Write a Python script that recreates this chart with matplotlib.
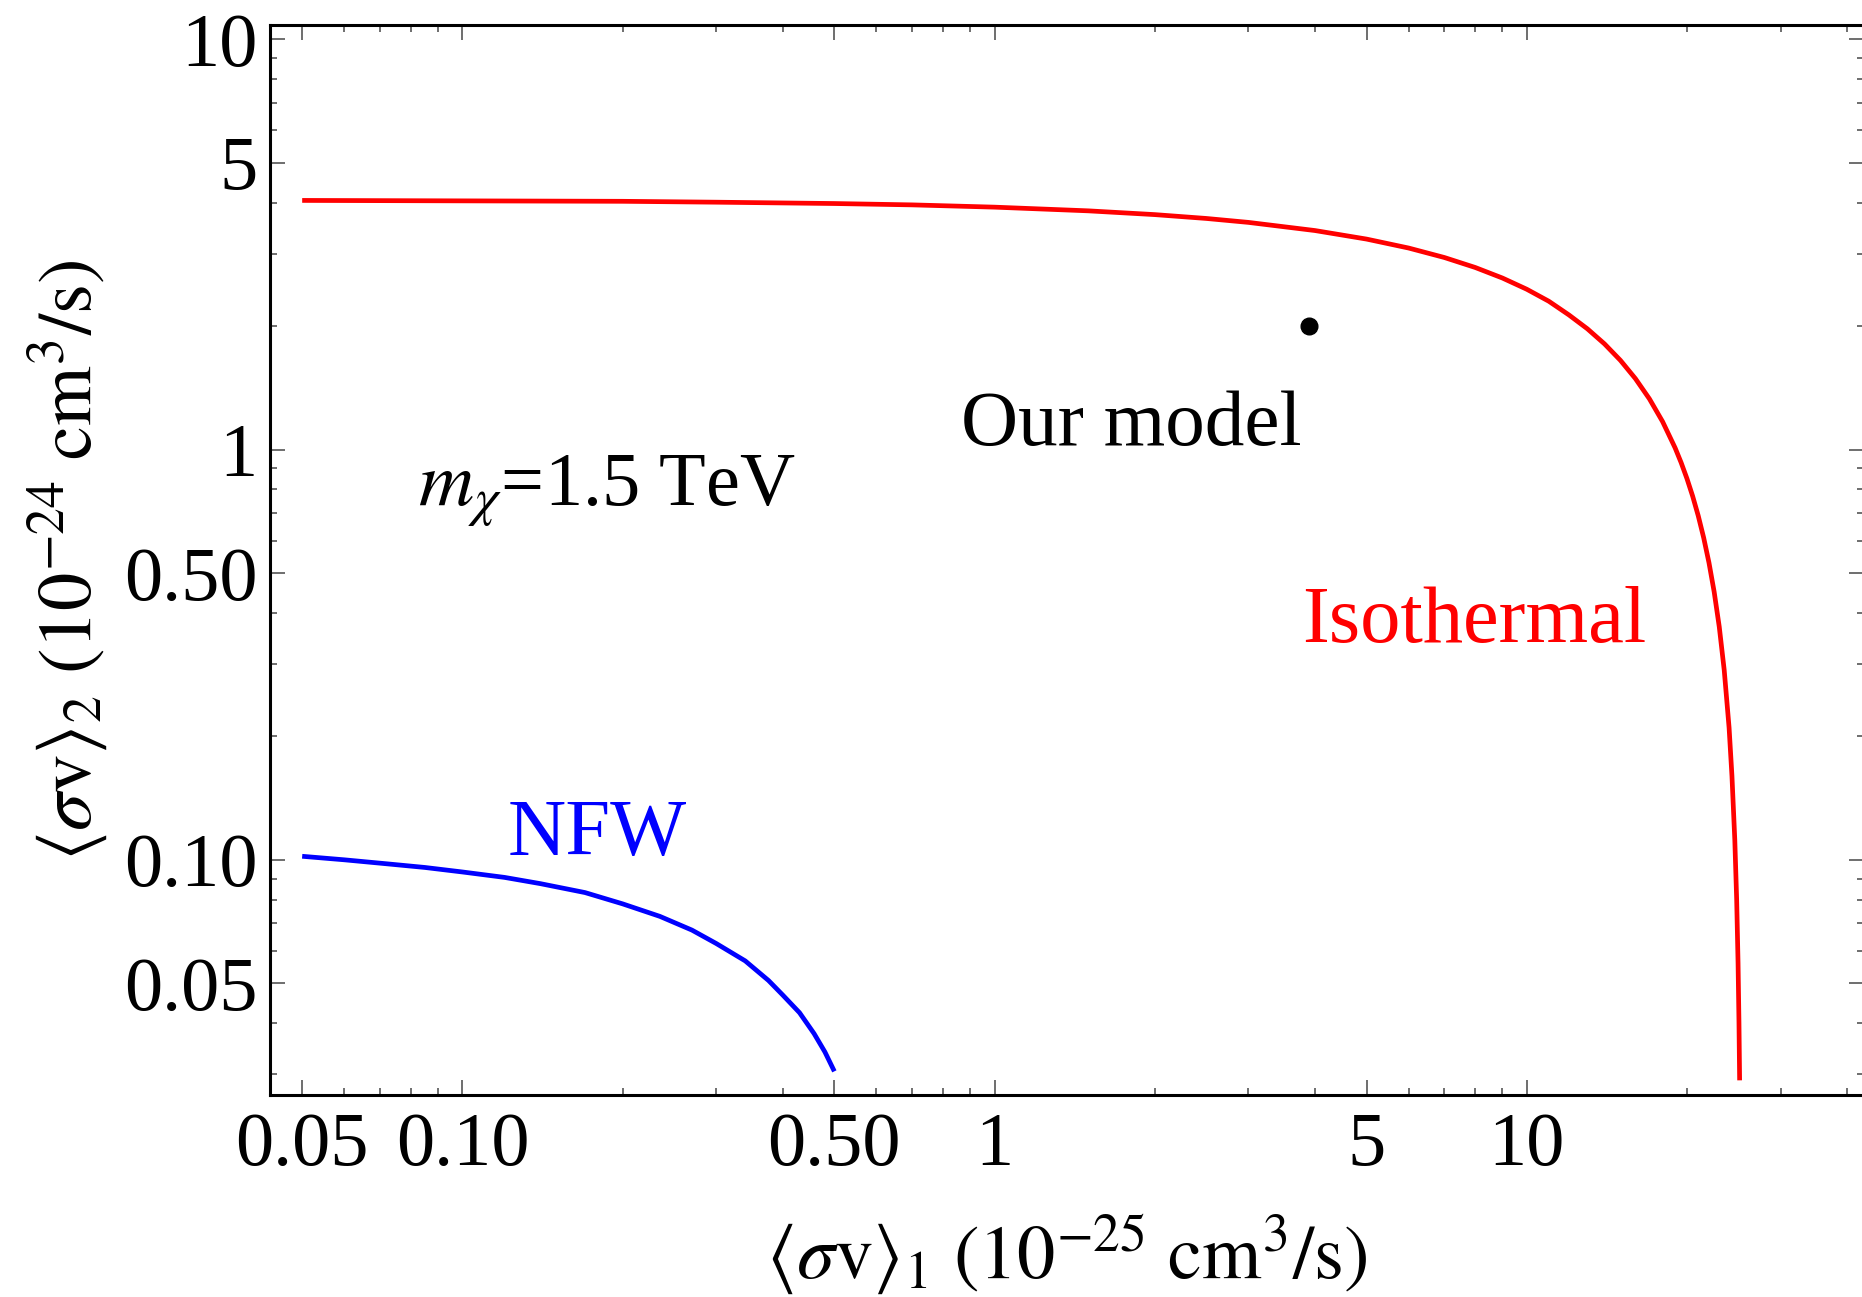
import matplotlib
matplotlib.use("Agg")
import matplotlib.pyplot as plt
from matplotlib.ticker import FixedLocator, FixedFormatter, NullFormatter

# Isothermal limit curve (red)
iso_x = [0.05, 0.1, 0.2, 0.3, 0.5, 0.7, 1, 1.5, 2, 2.5, 3, 4, 5, 6, 7, 8,
         9, 10, 11, 12, 13, 14, 15, 16, 17, 18, 19, 19.5, 20, 20.5, 21,
         21.5, 22, 22.5, 23, 23.5, 24, 24.3, 24.6, 24.8, 24.95, 25.05, 25.12]
iso_y = [4.05, 4.04, 4.03, 4.01, 3.98, 3.95, 3.90, 3.82, 3.74, 3.66, 3.58,
         3.42, 3.26, 3.10, 2.94, 2.78, 2.62, 2.46, 2.30, 2.13, 1.97, 1.81,
         1.65, 1.49, 1.33, 1.17, 1.01, 0.93, 0.85, 0.77, 0.69, 0.61, 0.53,
         0.45, 0.37, 0.29, 0.21, 0.16, 0.112, 0.080, 0.056, 0.040, 0.029]

# NFW limit curve (blue)
nfw_x = [0.05, 0.06, 0.072, 0.085, 0.1, 0.12, 0.14, 0.17, 0.2, 0.235, 0.27,
         0.3, 0.34, 0.376, 0.4, 0.43, 0.458, 0.48, 0.5]
nfw_y = [0.102, 0.100, 0.0978, 0.0958, 0.0934, 0.0906, 0.0875, 0.0832,
         0.0781, 0.0728, 0.0674, 0.0625, 0.0567, 0.0508, 0.0468, 0.0424,
         0.0377, 0.0340, 0.0305]

# benchmark point
model_x = [3.9]
model_y = [2.0]

x_major = [0.05, 0.1, 0.5, 1, 5, 10]
x_major_labels = ["0.05", "0.10", "0.50", "1", "5", "10"]
x_minor = [0.06, 0.07, 0.08, 0.09, 0.2, 0.3, 0.4, 0.6, 0.7, 0.8, 0.9,
           2, 3, 4, 6, 7, 8, 9, 20, 30, 40]
y_major = [0.05, 0.1, 0.5, 1, 5, 10]
y_major_labels = ["0.05", "0.10", "0.50", "1", "5", "10"]
y_minor = [0.03, 0.04, 0.06, 0.07, 0.08, 0.09, 0.2, 0.3, 0.4, 0.6, 0.7,
           0.8, 0.9, 2, 3, 4, 6, 7, 8, 9]

plt.rcParams['font.family'] = ['Liberation Serif', 'DejaVu Serif']
plt.rcParams['mathtext.fontset'] = 'stix'

fig = plt.figure(figsize=(18.62, 12.97), dpi=100)
ax = fig.add_axes([0.145, 0.1557, 0.856, 0.825])

ax.plot(iso_x, iso_y, color=(1, 0, 0), lw=3.4, solid_capstyle='butt',
        solid_joinstyle='round')
ax.plot(nfw_x, nfw_y, color=(0, 0, 1), lw=3.4, solid_capstyle='butt',
        solid_joinstyle='round')
ax.plot(model_x, model_y, 'o', color='black', ms=12)

ax.set_xscale('log')
ax.set_yscale('log')
ax.set_xlim(0.0435, 43)
ax.set_ylim(0.0267, 10.84)

ax.xaxis.set_major_locator(FixedLocator(x_major))
ax.xaxis.set_major_formatter(FixedFormatter(x_major_labels))
ax.xaxis.set_minor_locator(FixedLocator(x_minor))
ax.xaxis.set_minor_formatter(NullFormatter())
ax.yaxis.set_major_locator(FixedLocator(y_major))
ax.yaxis.set_major_formatter(FixedFormatter(y_major_labels))
ax.yaxis.set_minor_locator(FixedLocator(y_minor))
ax.yaxis.set_minor_formatter(NullFormatter())

tick_col = '#555555'
ax.tick_params(which='both', direction='in', top=True, right=True,
               color=tick_col, width=1.2)
ax.tick_params(which='major', length=11, labelsize=55)
ax.tick_params(which='minor', length=5)
ax.tick_params(axis='x', which='major', pad=12)
ax.tick_params(axis='y', which='major', pad=9)

for side in ['left', 'bottom', 'top']:
    ax.spines[side].set_linewidth(2.2)
ax.spines['right'].set_visible(False)

ax.set_xlabel(r'$\langle\sigma\mathrm{v}\rangle_1\ (10^{-25}\ \mathrm{cm}^3/\mathrm{s})$',
              fontsize=55, labelpad=23)
ax.set_ylabel(r'$\langle\sigma\mathrm{v}\rangle_2\ (10^{-24}\ \mathrm{cm}^3/\mathrm{s})$',
              fontsize=55, labelpad=10)

ax.text(0.1795, 0.1025, 'NFW', color=(0, 0, 1), fontsize=58,
        ha='center', va='baseline')
ax.text(7.98, 0.34, 'Isothermal', color=(1, 0, 0), fontsize=58,
        ha='center', va='baseline')
ax.text(1.81, 1.026, 'Our model', color='black', fontsize=57,
        ha='center', va='baseline')
ax.text(0.0826, 0.733, r'$m_\chi$=1.5 TeV', color='black', fontsize=55,
        ha='left', va='baseline')

fig.savefig('out.png', dpi=100)
